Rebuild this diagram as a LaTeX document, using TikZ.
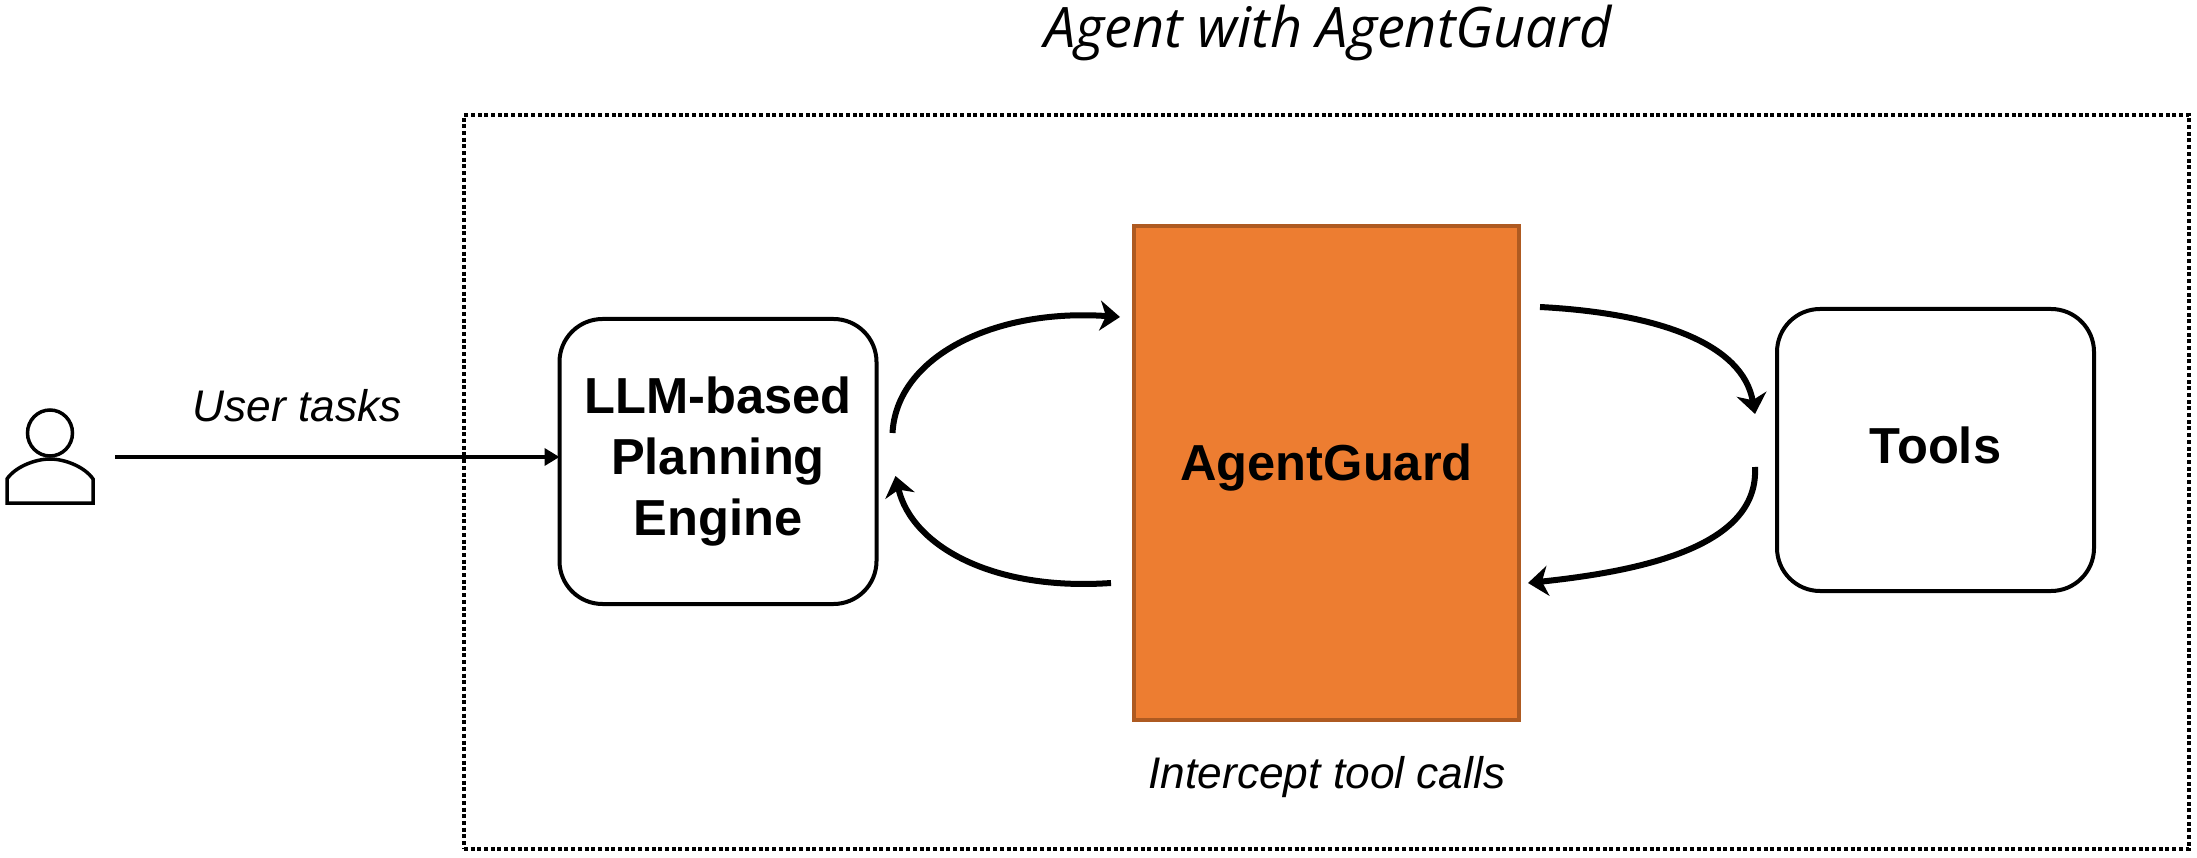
\documentclass[tikz,border=0pt]{standalone}
\usepackage{fontspec}
\setmainfont{Liberation Sans}
\newfontfamily\titlefont{Open Sans}
\usepackage[usenames,dvipsnames]{xcolor}
\usepackage{tikz}
\usetikzlibrary{arrows.meta, shapes.geometric}
\definecolor{guardfill}{HTML}{ED7D31}
\definecolor{guardline}{HTML}{AE5A21}
\tikzset{
  block/.style={draw=black, fill=white, line width=0.04cm, outer sep=0pt, rounded corners=0.43cm, align=center, font=\fontsize{14.4}{17.4}\selectfont\bfseries},
  flow/.style={line width=0.06cm, -{Stealth[length=0.2cm, width=0.3cm, inset=0.06cm]}},
  caption/.style={font=\fontsize{12.6}{15}\selectfont\itshape},
}

\begin{document}
\begin{tikzpicture}
\useasboundingbox (0,0) rectangle (21.97,8.57);

% dotted frame
\node[draw=black, dash pattern=on 0.04cm off 0.027cm, line width=0.033cm, minimum width=17.25cm, minimum height=7.34cm] (agent) at (13.265,3.75) {};
\node[font=\fontsize{15.9}{20}\selectfont\titlefont\itshape] (title) at (13.28,8.24) {Agent with AgentGuard};

% user
\node[draw=black, ellipse, line width=0.035cm, minimum width=0.45cm, minimum height=0.46cm, inner sep=0pt] (head) at (0.5,4.24) {};
\draw[line width=0.035cm] (0.07,3.54) -- (0.93,3.54) -- (0.93,3.78) .. controls (0.85,3.9) and (0.65,3.98) .. (0.5,3.98) .. controls (0.35,3.98) and (0.15,3.9) .. (0.07,3.78) -- cycle;
\coordinate (userend) at (1.15,4.0);

% boxes
\node[block, minimum width=3.17cm, minimum height=2.85cm] (llm) at (7.18,3.955) {LLM-based\\Planning\\Engine};
\node[draw=guardline, fill=guardfill, line width=0.04cm, outer sep=0pt, minimum width=3.85cm, minimum height=4.94cm, text depth=0.21cm, font=\fontsize{14.4}{17.4}\selectfont\bfseries] (guard) at (13.265,3.84) {AgentGuard};
\node[block, minimum width=3.17cm, minimum height=2.82cm, text depth=0.1cm] (tools) at (19.355,4.07) {Tools};

\node[caption] (intercept) at (13.27,0.795) {Intercept tool calls};
\node[caption] (usertasks) at (2.97,4.515) {User tasks};

% connectors
\draw[line width=0.035cm, -{Triangle[length=0.15cm, width=0.17cm]}] (userend) -- (llm.west |- userend);
\draw[flow] ([shift={(0.16,0.285)}]llm.east) to[out=87, in=176, out looseness=0.76, in looseness=1.27] ([shift={(-0.14,1.56)}]guard.west);
\draw[flow] ([shift={(-0.23,-1.10)}]guard.west) to[out=184, in=-77, out looseness=1.27, in looseness=0.76] ([shift={(0.19,-0.145)}]llm.east);
\draw[flow] ([shift={(0.21,1.66)}]guard.east) to[out=-3, in=100, out looseness=1.27, in looseness=0.76] ([shift={(-0.22,0.36)}]tools.west);
\draw[flow] ([shift={(-0.22,-0.17)}]tools.west) to[out=-87, in=6, out looseness=0.76, in looseness=1.27] ([shift={(0.09,-1.10)}]guard.east);
\end{tikzpicture}
\end{document}
